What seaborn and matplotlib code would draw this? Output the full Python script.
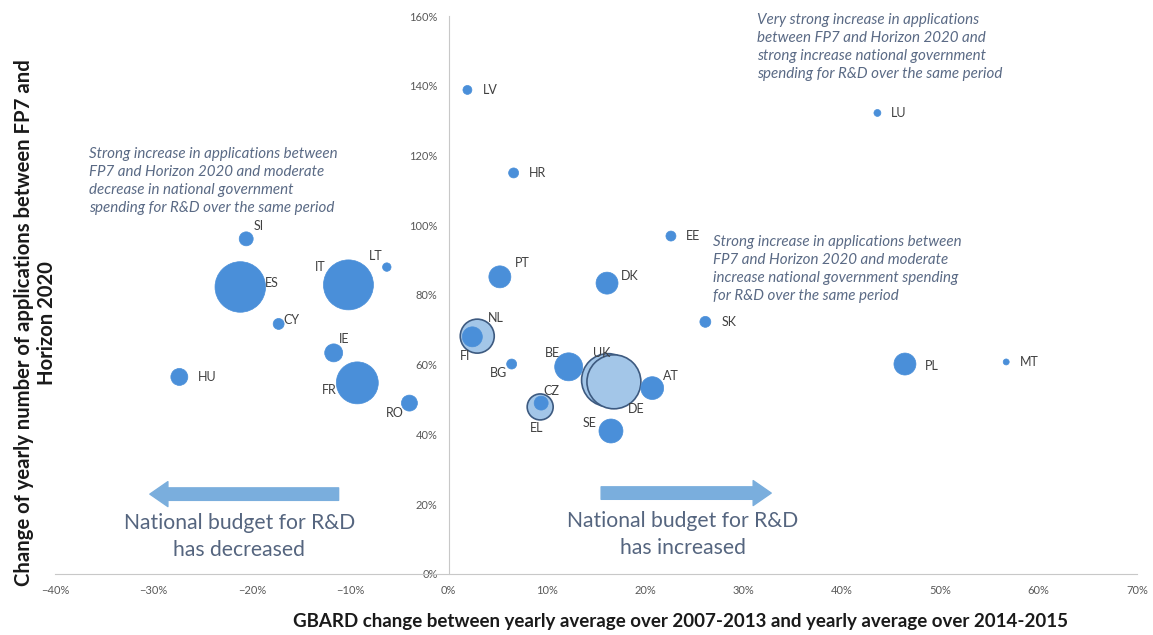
import matplotlib
matplotlib.use("Agg")
import matplotlib.pyplot as plt
import matplotlib.ticker as mticker
import seaborn as sns
import pandas as pd

countries = ["LV", "HR", "LU", "EE", "SI", "LT", "IT", "ES", "PT", "DK", "CY", "SK", "NL", "FI",
             "IE", "BG", "BE", "PL", "MT", "HU", "UK", "DE", "AT", "FR", "CZ", "EL", "RO", "SE"]
gbard_change = [1.9, 6.6, 43.6, 22.6, -20.6, -6.3, -10.2, -21.2, 5.2, 16.1, -17.3, 26.1, 2.9, 2.4,
                -11.7, 6.4, 12.2, 46.4, 56.7, -27.4, 16.2, 16.8, 20.7, -9.3, 9.4, 9.3, -4.0, 16.5]
appl_change = [138.8, 115.0, 132.2, 96.9, 96.1, 88.0, 82.9, 82.3, 85.2, 83.4, 71.7, 72.3, 68.2, 68.0,
               63.4, 60.2, 59.4, 60.2, 60.8, 56.5, 55.6, 55.1, 53.3, 54.8, 49.0, 47.9, 49.0, 41.0]
bubble = [20, 25, 12, 25, 49, 18, 625, 640, 121, 121, 30, 30, 289, 100,
          81, 25, 196, 121, 9, 72, 700, 729, 130, 441, 49, 169, 64, 144]
outlined = ["NL", "EL", "UK", "DE"]

x_ticks = [-40, -30, -20, -10, 0, 10, 20, 30, 40, 50, 60, 70]
y_ticks = [0, 20, 40, 60, 80, 100, 120, 140, 160]

df = pd.DataFrame({"country": countries, "x": gbard_change, "y": appl_change, "bubble": bubble})
df["style"] = df["country"].apply(lambda c: "outlined" if c in outlined else "solid")

# label offsets in pixels (dx right, dy up)
label_off = {
    "LV": (23, 0), "HR": (24, 0), "LU": (21, 0), "EE": (22, 0), "SI": (12, 13), "LT": (-11, 11),
    "IT": (-28, 18), "ES": (32, 4), "PT": (22, 14), "DK": (23, 7), "CY": (13, 4), "SK": (24, 0),
    "NL": (19, 18), "FI": (-7, -19), "IE": (10, 14), "BG": (-13, -9), "BE": (-16, 14), "PL": (27, -2),
    "MT": (23, 0), "HU": (28, 0), "UK": (-6, 27), "DE": (22, -27), "AT": (19, 12), "FR": (-28, -7),
    "CZ": (10, 12), "EL": (-4, -21), "RO": (-15, -10), "SE": (-21, 8),
}

sns.set_theme(style="white")
plt.rcParams["font.family"] = ["Lato", "DejaVu Sans"]

fig = plt.figure(figsize=(11.53, 6.35), dpi=100)
ax = fig.add_axes([0.0481, 0.0961, 0.938, 0.8787])

SOLID = "#4a8fd9"
LIGHT = "#a3c6e8"
EDGE = "#3d5a80"
max_area = 784
size_kw = dict(size="bubble", sizes=(0, 2.07 * max_area), size_norm=(0, max_area), legend=False)

sns.scatterplot(data=df[df["style"] == "outlined"], x="x", y="y", color=LIGHT, edgecolor=EDGE,
                linewidth=1.2, ax=ax, zorder=2, **size_kw)
sns.scatterplot(data=df[df["style"] == "solid"], x="x", y="y", color=SOLID, edgecolor=SOLID,
                linewidth=0.5, ax=ax, zorder=3, **size_kw)

for c, xv, yv in zip(countries, gbard_change, appl_change):
    dx, dy = label_off[c]
    ax.annotate(c, (xv, yv), xytext=(dx, dy), textcoords="offset pixels", ha="center", va="center",
                fontsize=9, color="#404040", zorder=5)

ax.set_xlim(-40, 70)
ax.set_ylim(0, 160)
ax.set_xticks(x_ticks)
ax.set_yticks(y_ticks)
ax.xaxis.set_major_formatter(mticker.PercentFormatter(xmax=100, decimals=0))
ax.yaxis.set_major_formatter(mticker.PercentFormatter(xmax=100, decimals=0))
for s in ["top", "right"]:
    ax.spines[s].set_visible(False)
ax.spines["left"].set_position(("data", 0))
for s in ["left", "bottom"]:
    ax.spines[s].set_color("#c8c8c8")
    ax.spines[s].set_linewidth(0.8)
ax.tick_params(axis="both", which="major", length=4, direction="inout", color="#c8c8c8",
               labelsize=8, labelcolor="#595959", width=0.8)
ax.tick_params(axis="x", pad=6)
ax.tick_params(axis="y", pad=6)

ax.set_xlabel("GBARD change between yearly average over 2007-2013 and yearly average over 2014-2015",
              fontsize=13.5, fontweight="bold", color="#1a1a1a")
ax.xaxis.set_label_coords(0.578, -0.070)
ax.set_ylabel("Change of yearly number of applications between FP7 and\nHorizon 2020",
              fontsize=14.6, fontweight="bold", color="#1a1a1a", linespacing=1.15)
ax.yaxis.set_label_coords(0.001, 0.45)

note_color = "#5a6a85"
note_kw = dict(transform=ax.transAxes, fontsize=10.9, style="italic", color=note_color, va="top",
               ha="left", linespacing=1.37)
ax.text(0.6486, 1.005, "Very strong increase in applications\nbetween FP7 and Horizon 2020 and\n"
        "strong increase national government\nspending for R&D over the same period", **note_kw)
ax.text(0.031, 0.765, "Strong increase in applications between\nFP7 and Horizon 2020 and moderate\n"
        "decrease in national government\nspending for R&D over the same period", **note_kw)
ax.text(0.608, 0.607, "Strong increase in applications between\nFP7 and Horizon 2020 and moderate\n"
        "increase national government spending\nfor R&D over the same period", **note_kw)

arrow_color = "#7aaedd"
astyle = "simple,head_length=1.3,head_width=1.8,tail_width=0.9"
ax.annotate("", xy=(-30.4, 22.9), xytext=(-11.2, 22.9),
            arrowprops=dict(arrowstyle=astyle, color=arrow_color, mutation_scale=10,
                            shrinkA=0, shrinkB=0))
ax.annotate("", xy=(32.8, 23.2), xytext=(15.5, 23.2),
            arrowprops=dict(arrowstyle=astyle, color=arrow_color, mutation_scale=10,
                            shrinkA=0, shrinkB=0))

big_color = "#55657f"
ax.text(-21.3, 10.8, "National budget for R&D\nhas decreased", fontsize=15.2, color=big_color,
        ha="center", va="center", linespacing=1.4)
ax.text(23.8, 11.3, "National budget for R&D\nhas increased", fontsize=15.2, color=big_color,
        ha="center", va="center", linespacing=1.4)

fig.savefig("out.png", dpi=100)
